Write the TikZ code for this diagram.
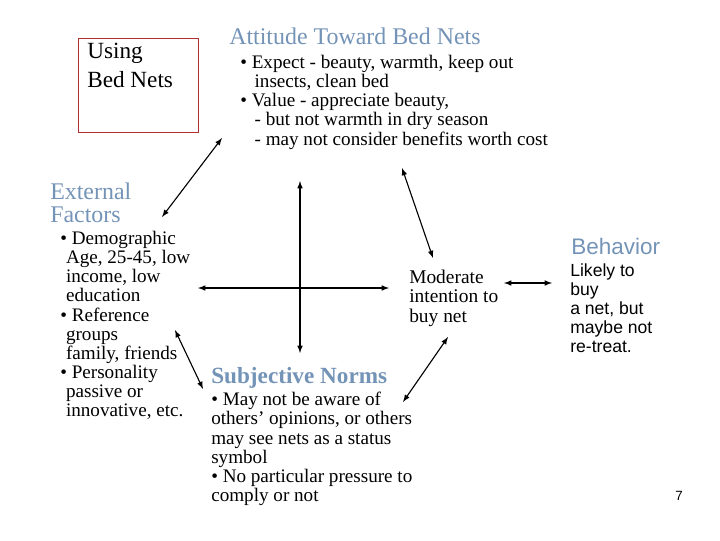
\documentclass[tikz,border=0pt]{standalone}
\usepackage{fontspec}
\setmainfont{Liberation Serif}
\setsansfont{Liberation Sans}
\usepackage{tikz}
\definecolor{titleblue}{RGB}{115,147,183}
\definecolor{boxred}{RGB}{176,48,48}
\tikzset{
  txt/.style={anchor=north west, inner sep=0pt, align=left},
  body/.style={txt, font=\fontsize{13.6}{13.6}\selectfont},
  head/.style={txt, text=titleblue, font=\fontsize{17}{16.4}\selectfont},
  link/.style={<->, >=latex, thick}
}
\begin{document}
\begin{tikzpicture}[x=0.025cm, y=-0.025cm]

	\useasboundingbox (0,0) rectangle (720,540);

	\draw[boxred] (78,38) rectangle (198,132);
	\node[txt, font=\fontsize{16.5}{20.6}\selectfont] (using) at (87,43) {Using\\Bed Nets};

	\node[head] (att) at (229,28) {Attitude Toward Bed Nets};
	\node[body] (attbody) at (240,55) {\textbullet\ Expect - beauty, warmth, keep out\\\hspace*{0.75em}insects, clean bed\\\textbullet\ Value - appreciate beauty,\\\hspace*{0.75em}- but not warmth in dry season\\\hspace*{0.75em}- may not consider benefits worth cost};

	\node[head] (ext) at (50,183) {External\\Factors};
	\node[body] (extbody) at (60,231) {\textbullet\ Demographic\\\hspace*{0.3em}Age, 25-45, low\\\hspace*{0.3em}income, low\\\hspace*{0.3em}education\\\textbullet\ Reference\\\hspace*{0.3em}groups\\\hspace*{0.3em}family, friends\\\textbullet\ Personality\\\hspace*{0.3em}passive or\\\hspace*{0.3em}innovative, etc.};

	\node[body, font=\fontsize{13.8}{13.6}\selectfont] (intent) at (409,270) {Moderate\\intention to\\buy net};

	\node[txt, text=titleblue, font=\sffamily\fontsize{16}{16}\selectfont] (beh) at (571,238) {Behavior};
	\node[txt, font=\sffamily\fontsize{12.5}{13.6}\selectfont] (behbody) at (570,263) {Likely to\\buy\\a net, but\\maybe not\\re-treat.};

	\node[head, font=\bfseries\fontsize{16.5}{16}\selectfont] (norms) at (211,367) {Subjective Norms};
	\node[body] (normsbody) at (211,392) {\textbullet\ May not be aware of\\others' opinions, or others\\may see nets as a status\\symbol\\\textbullet\ No particular pressure to\\comply or not};

	\node[txt, font=\sffamily\fontsize{9.5}{10}\selectfont] (page) at (675,491) {7};

	\coordinate (a1) at (222,138);  \coordinate (a2) at (162,217);
	\coordinate (v1) at (300,181);  \coordinate (v2) at (300,353);
	\coordinate (h1) at (198,288);  \coordinate (h2) at (389,288);
	\coordinate (b1) at (402,168);  \coordinate (b2) at (433,258);
	\coordinate (c1) at (504,283);  \coordinate (c2) at (552,283);
	\coordinate (d1) at (175,330);  \coordinate (d2) at (203,389);
	\coordinate (e1) at (448,337);  \coordinate (e2) at (403,402);

	\draw[link] (a1) -- (a2);
	\draw[link] (v1) -- (v2);
	\draw[link] (h1) -- (h2);
	\draw[link] (b1) -- (b2);
	\draw[link] (c1) -- (c2);
	\draw[link] (d1) -- (d2);
	\draw[link] (e1) -- (e2);

\end{tikzpicture}
\end{document}
